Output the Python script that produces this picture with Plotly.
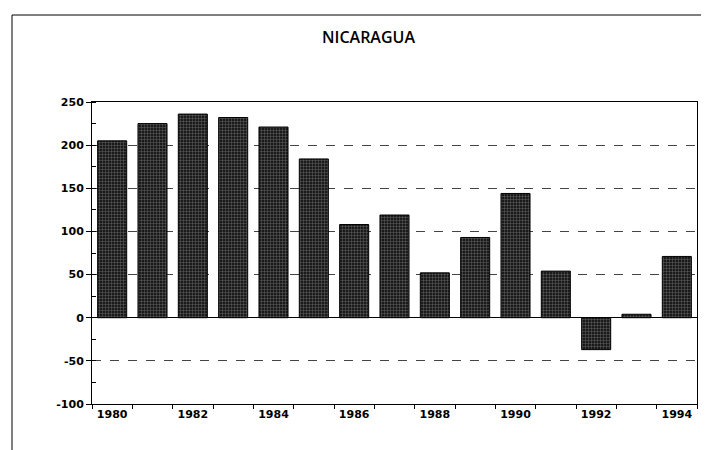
import plotly.graph_objects as go

years = ["1980", "1981", "1982", "1983", "1984", "1985", "1986", "1987",
         "1988", "1989", "1990", "1991", "1992", "1993", "1994"]
values = [205, 225, 236, 232, 221, 184, 108, 119, 52, 93, 144, 54, -37, 4, 71]
year_labels = ["1980", "", "1982", "", "1984", "", "1986", "", "1988", "",
               "1990", "", "1992", "", "1994"]
y_ticks = [-100, -50, 0, 50, 100, 150, 200, 250]
y_labels = ["-100", "-50", "0", "50", "100", "150", "200", "250"]

# page body has an 8px margin, so the figure is laid out in shifted coordinates
W, H = 701, 442
L, R, T, B = 84, 12, 94, 46
PW, PH = W - L - R, H - T - B

fig = go.Figure()
fig.add_trace(go.Bar(
    x=years, y=values, width=0.72,
    marker=dict(color="#1a1a1a",
                line=dict(color="#000000", width=1),
                pattern=dict(shape="+", fgcolor="#c8c8c8", size=3, solidity=0.25)),
    showlegend=False,
))

tick_font = dict(family="DejaVu Sans", size=11, color="#000000", weight="bold")

fig.update_layout(
    width=W, height=H,
    margin=dict(l=L, r=R, t=T, b=B),
    paper_bgcolor="white", plot_bgcolor="white",
    xaxis=dict(
        type="category", tickmode="array", tickvals=years, ticktext=year_labels,
        tickson="boundaries", ticks="outside", ticklen=4, tickcolor="#000",
        showline=True, linecolor="#000", linewidth=1, mirror=True,
        showgrid=False, tickfont=tick_font, automargin=False,
    ),
    yaxis=dict(
        range=[-100, 250], tickmode="array", tickvals=y_ticks, ticktext=y_labels,
        ticks="outside", ticklen=5,
        tickcolor="#000", showline=True, linecolor="#000", linewidth=1, mirror=True,
        showgrid=True, gridcolor="#444", griddash="dash", gridwidth=1,
        zeroline=True, zerolinecolor="#000", zerolinewidth=1,
        tickfont=tick_font, automargin=False,
        minor=dict(dtick=25, ticks="inside", ticklen=4, tickcolor="#000", showgrid=False),
    ),
    annotations=[dict(
        text="NICARAGUA", xref="paper", yref="paper",
        x=(360 - L) / PW, y=1 + (T - 29) / PH,
        xanchor="center", yanchor="middle", showarrow=False,
        font=dict(family="Open Sans", size=16, color="#000", weight=600),
    )],
    shapes=[
        dict(type="line", xref="paper", yref="paper",
             x0=(4 - L) / PW, x1=(W - L) / PW,
             y0=1 + (T - 7) / PH, y1=1 + (T - 7) / PH,
             line=dict(color="#000", width=1)),
        dict(type="line", xref="paper", yref="paper",
             x0=(4 - L) / PW, x1=(4 - L) / PW,
             y0=1 + (T - 7) / PH, y1=-B / PH,
             line=dict(color="#000", width=1)),
    ],
)

fig.write_html("out.html")
